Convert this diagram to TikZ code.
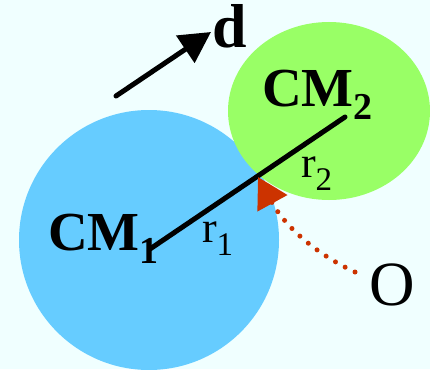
\documentclass[tikz,border=0pt]{standalone}
\usepackage{fontspec}
\setmainfont{Liberation Serif}
\usetikzlibrary{
  arrows.meta,
  positioning,
  shapes.geometric,
}
\definecolor{bgcyan}{HTML}{F0FFFF}
\definecolor{bodyblue}{HTML}{66CCFF}
\definecolor{bodygreen}{HTML}{99FF66}
\definecolor{pathred}{HTML}{CC3300}
\newcommand{\lowsub}[2]{\raisebox{-13pt}{\fontsize{#1}{#1}\selectfont #2}}

\begin{document}
\begin{tikzpicture}[
    x=1pt, y=-1pt,
    body/.style={inner sep=0pt, outer sep=0pt},
    lbl/.style={inner sep=0pt, outer sep=0pt, anchor=base west},
    cmtext/.style={lbl, font=\fontsize{55}{55}\selectfont\bfseries},
    rtext/.style={lbl, font=\fontsize{44}{44}\selectfont},
    rod/.style={line width=5pt, line cap=round},
  ]
  \useasboundingbox (0,0) rectangle (430,369);
  \clip (0,0) rectangle (430,369);
  \fill[bgcyan] (0,0) rectangle (430,369);

  % the two bodies
  \node[body, circle, fill=bodyblue, minimum size=260pt] (body1) at (149,240) {};
  \node[body, ellipse, fill=bodygreen, minimum width=202pt, minimum height=178pt] (body2) at (329,111) {};

  \coordinate (cm1) at (150,249);
  \coordinate (cm2) at (345,117);
  \draw[rod] (cm1) -- (cm2);

  \node[cmtext] (cm1lbl) at (48,250) {CM\lowsub{38}{1}};
  \node[cmtext] (cm2lbl) at (262,106) {CM\lowsub{38}{2}};
  \node[rtext] (r1lbl) at (202,242) {r\lowsub{33}{1}};
  \node[rtext] (r2lbl) at (301,177) {r\lowsub{33}{2}};

  % direction d
  \coordinate (dtail) at (116,96);
  \coordinate (dtip) at (211,32);
  \draw[line width=5pt, line cap=round, -{Triangle[length=31pt, width=32pt]}] (dtail) -- (dtip);
  \node[lbl, font=\fontsize{62}{62}\selectfont\bfseries] (dlbl) at (212,48) {d};

  % origin
  \node[lbl, font=\fontsize{63}{63}\selectfont] (olbl) at (369,305) {O};
  \coordinate (ostart) at (355,272);
  \coordinate (contact) at (258,177);
  \draw[pathred, line width=5pt, line cap=round, dash pattern=on 0pt off 11pt,
    -{Triangle[length=30pt, width=33pt]}]
    (ostart) .. controls (318,255) and (286,228) .. (contact);
\end{tikzpicture}
\end{document}
